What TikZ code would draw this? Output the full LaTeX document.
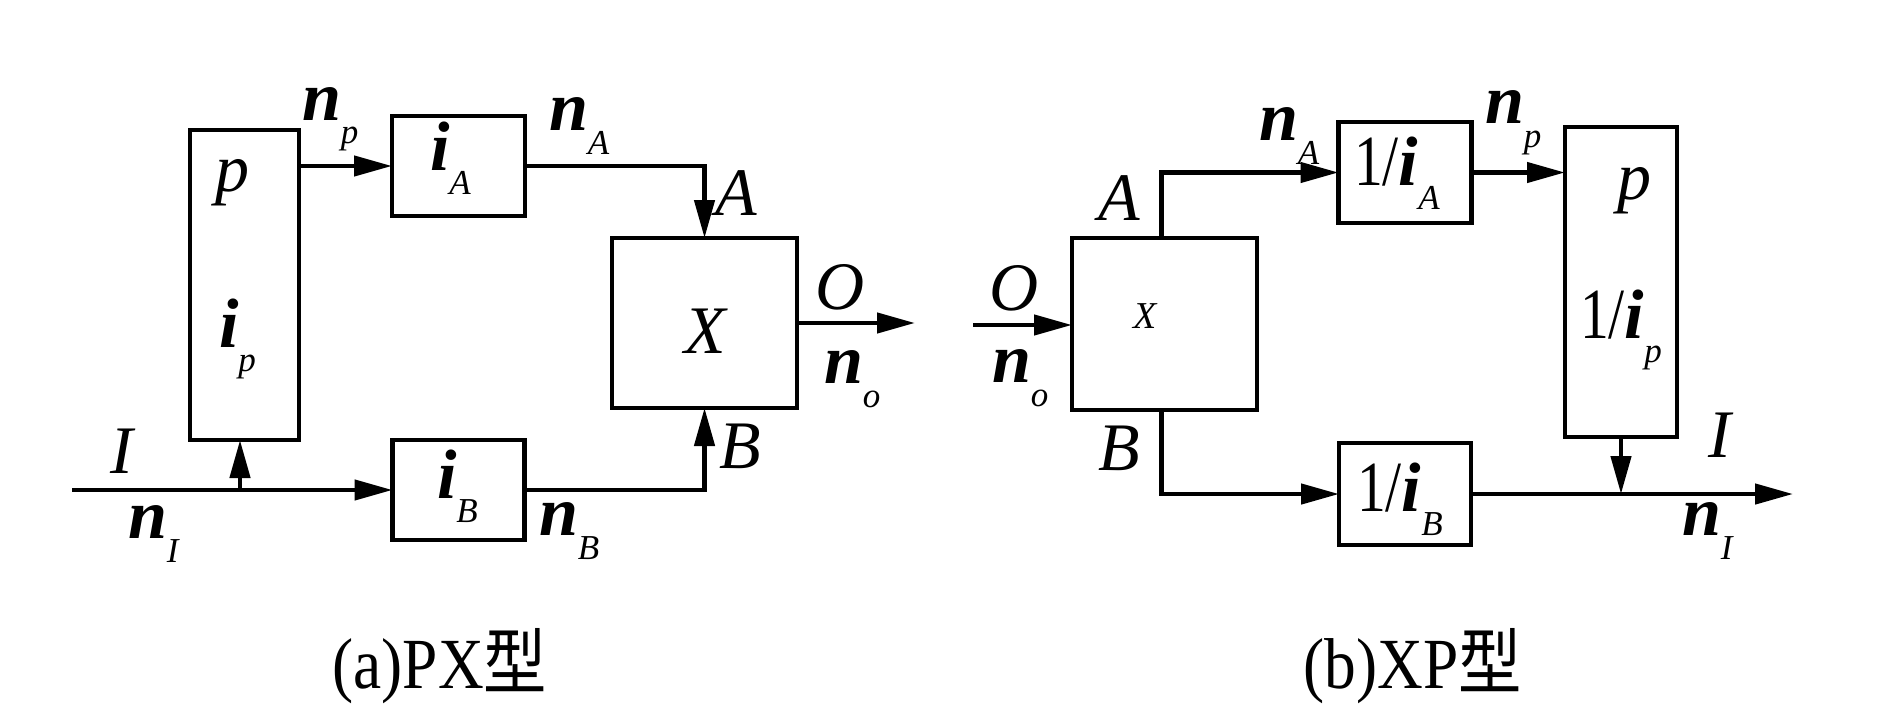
\documentclass[tikz,border=0pt]{standalone}
\usepackage{fontspec}
\usepackage{graphicx}
\setmainfont{Liberation Serif}
\newfontfamily\cjk{Noto Sans CJK SC}
\usetikzlibrary{arrows.meta}
\newcommand{\vsub}[2]{{\fontsize{70}{70}\selectfont\bfseries\itshape #1}\raisebox{-24pt}{\fontsize{35}{35}\selectfont\itshape #2}}
\newcommand{\capl}[1]{{\fontsize{68}{68}\selectfont\itshape #1}}
\newcommand{\onebar}{{\fontsize{72}{72}\selectfont\scalebox{0.8}[1]{1/}}}
\tikzset{
  box/.style={draw, line width=4.5pt, inner sep=0pt, outer sep=0pt},
  lab/.style={inner sep=0pt, outer sep=0pt, anchor=base west},
  labc/.style={inner sep=0pt, outer sep=0pt, anchor=base},
  arr/.style={line width=4.5pt, -{Triangle[length=38pt,width=20pt]}},
}
\begin{document}
\begin{tikzpicture}[x=1pt,y=-1pt]
\useasboundingbox (0,0) rectangle (1890,709);
% ---------- left (PX) ----------
\node[box, minimum width=109pt, minimum height=310pt] (P) at (244.5,285) {};
\node[box, minimum width=133pt, minimum height=100pt] (iA) at (458.5,166) {};
\node[box, minimum width=132pt, minimum height=100pt] (iB) at (458.5,490) {};
\node[box, minimum width=185pt, minimum height=170pt] (X1) at (704.5,323) {};
\coordinate (inL) at (72,490);
\coordinate (br) at (240,490);
\coordinate (out1) at (915,323);
\draw[arr] (inL) -- (iB.west);
\draw[arr] (br) -- (br |- P.south);
\draw[arr] (P.east |- iA.west) -- (iA.west);
\draw[arr] (iA.east) -| (X1.north);
\draw[arr] (iB.east) -| (X1.south);
\draw[arr] (X1.east) -- (out1);
% labels left
\node[lab] (lnp) at (302,120) {\vsub{n}{p}};
\node[labc] (lp) at (232,191) {\capl{p}};
\node[lab] (lip) at (219,347) {\vsub{i}{p}};
\node[lab] (liA) at (430,170) {\vsub{i}{A}};
\node[lab] (lnA) at (549,130) {\vsub{n}{A}};
\node[lab] (lA) at (715,215) {\capl{A}};
\node[labc] (lX) at (705,353) {\capl{X}};
\node[lab] (lO) at (815,309) {\capl{O}};
\node[lab] (lno) at (824,383) {\vsub{n}{o}};
\node[lab] (lB) at (719,468) {\capl{B}};
\node[lab] (lI) at (110,473) {\capl{I}};
\node[lab] (lnI) at (128,538) {\vsub{n}{I}};
\node[lab] (liB) at (437,498) {\vsub{i}{B}};
\node[lab] (lnB) at (539,535) {\vsub{n}{B}};
\node[labc] (capa) at (440,688) {\scalebox{0.88}[1]{\fontsize{72}{72}\selectfont (a)PX{\cjk 型}}};
% ---------- right (XP) ----------
\node[box, minimum width=185pt, minimum height=172pt] (X2) at (1164.5,324) {};
\node[box, minimum width=133pt, minimum height=101pt] (iA2) at (1405,172.5) {};
\node[box, minimum width=132pt, minimum height=102pt] (iB2) at (1405,494) {};
\node[box, minimum width=112pt, minimum height=310pt] (P2) at (1621,282) {};
\coordinate (in2) at (973,325);
\coordinate (out2) at (1793,494);
\draw[arr] (in2) -- (in2 -| X2.west);
\draw[arr] ([xshift=-3pt]X2.north) |- (iA2.west);
\draw[arr] (iA2.east) -- (iA2.east -| P2.west);
\draw[arr] ([xshift=-3pt]X2.south) |- (iB2.west);
\draw[arr] (iB2.east) -- (out2);
\draw[arr] (P2.south) -- (P2.south |- iB2.east);
% labels right
\node[lab] (rnA) at (1259,140) {\vsub{n}{A}};
\node[lab] (riA) at (1354,185) {\onebar\vsub{i}{A}};
\node[lab] (rnp) at (1485,123) {\vsub{n}{p}};
\node[labc] (rp) at (1634,199) {\capl{p}};
\node[lab] (rip) at (1580,338) {\onebar\vsub{i}{p}};
\node[lab] (rI) at (1708,457) {\capl{I}};
\node[lab] (rnI) at (1682,535) {\vsub{n}{I}};
\node[lab] (riB) at (1357,511) {\onebar\vsub{i}{B}};
\node[lab] (rB) at (1098,470) {\capl{B}};
\node[lab] (rA) at (1098,220) {\capl{A}};
\node[lab] (rO) at (989,310) {\capl{O}};
\node[lab] (rno) at (992,382) {\vsub{n}{o}};
\node[labc] (rX) at (1145,328) {\fontsize{38}{38}\selectfont\itshape X};
\node[labc] (capb) at (1413,688) {\scalebox{0.88}[1]{\fontsize{72}{72}\selectfont (b)XP{\cjk 型}}};
\end{tikzpicture}
\end{document}
